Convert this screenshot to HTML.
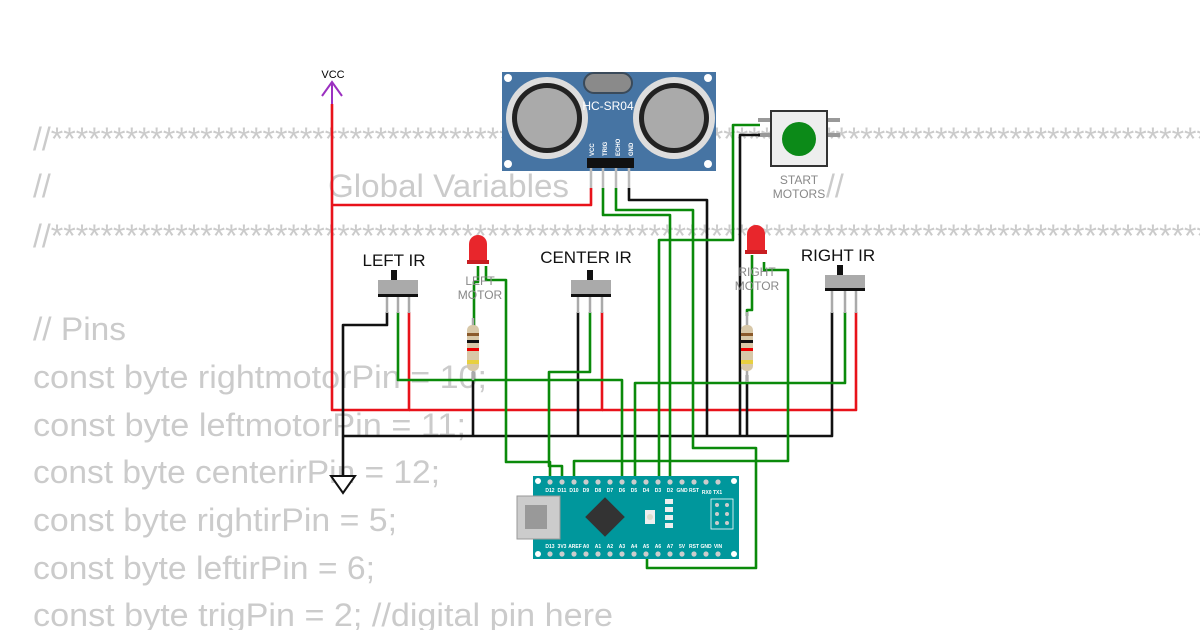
<!DOCTYPE html>
<html><head><meta charset="utf-8"><style>
html,body{margin:0;padding:0;background:#fff;width:1200px;height:630px;overflow:hidden}
svg{display:block}
.code{font-family:"Liberation Sans",sans-serif;font-size:32px;fill:#cbcbcb}
.w{fill:none;stroke-width:2.6;stroke-linejoin:round}
.g{stroke:#0a8a0a}.r{stroke:#e8121a}.k{stroke:#111}
.lbl{font-family:"Liberation Sans",sans-serif;font-size:17px;fill:#111}
.sm{font-family:"Liberation Sans",sans-serif;font-size:12px;fill:#888}
.pin{font-family:"Liberation Sans",sans-serif;font-size:6px;fill:#fff;font-weight:bold}
</style></head><body>
<svg width="1200" height="630" viewBox="0 0 1200 630" xmlns="http://www.w3.org/2000/svg">
<g class="code">
<text x="33" y="150">//*****************************************************************************************************</text>
<text x="33" y="197">//</text><text x="328" y="197" textLength="241" lengthAdjust="spacingAndGlyphs">Global Variables</text><text x="826" y="197">//</text>
<text x="33" y="247">//*****************************************************************************************************</text>
<text x="33" y="340" textLength="93" lengthAdjust="spacingAndGlyphs">// Pins</text>
<text x="33" y="388" textLength="454" lengthAdjust="spacingAndGlyphs">const byte rightmotorPin = 10;</text>
<text x="33" y="436" textLength="433" lengthAdjust="spacingAndGlyphs">const byte leftmotorPin = 11;</text>
<text x="33" y="483" textLength="407" lengthAdjust="spacingAndGlyphs">const byte centerirPin = 12;</text>
<text x="33" y="531" textLength="364" lengthAdjust="spacingAndGlyphs">const byte rightirPin = 5;</text>
<text x="33" y="579" textLength="342" lengthAdjust="spacingAndGlyphs">const byte leftirPin = 6;</text>
<text x="33" y="626" textLength="580" lengthAdjust="spacingAndGlyphs">const byte trigPin = 2; //digital pin here</text>
</g>

<!-- VCC -->
<text x="333" y="78" text-anchor="middle" font-family="Liberation Sans,sans-serif" font-size="11">VCC</text>
<path d="M322 96 L332 82 L342 96 M332 82 V104" fill="none" stroke="#9b30c0" stroke-width="2"/>

<!-- HC-SR04 -->
<rect x="502" y="72" width="214" height="99" fill="#4674a3"/>
<circle cx="508" cy="78" r="4" fill="#fff"/><circle cx="708" cy="78" r="4" fill="#fff"/>
<circle cx="508" cy="164" r="4" fill="#fff"/><circle cx="708" cy="164" r="4" fill="#fff"/>
<rect x="584" y="73" width="48" height="20" rx="10" fill="#8a8a8a" stroke="#3a4a5a" stroke-width="2"/>
<circle cx="547" cy="118" r="41" fill="#ddd"/><circle cx="547" cy="118" r="35" fill="#222"/><circle cx="547" cy="118" r="30" fill="#aaa"/>
<circle cx="674" cy="118" r="41" fill="#ddd"/><circle cx="674" cy="118" r="35" fill="#222"/><circle cx="674" cy="118" r="30" fill="#aaa"/>
<text x="608" y="110" text-anchor="middle" font-family="Liberation Sans,sans-serif" font-size="12" fill="#fff">HC-SR04</text>
<g class="pin"><text transform="translate(594,156) rotate(-90)">VCC</text><text transform="translate(607,156) rotate(-90)">TRIG</text><text transform="translate(620,156) rotate(-90)">ECHO</text><text transform="translate(633,156) rotate(-90)">GND</text></g>
<rect x="587" y="158" width="47" height="10" fill="#111"/>
<g stroke="#bbb" stroke-width="2.5"><line x1="591" y1="168" x2="591" y2="190"/><line x1="603" y1="168" x2="603" y2="190"/><line x1="616" y1="168" x2="616" y2="190"/><line x1="629" y1="168" x2="629" y2="190"/></g>

<!-- Start button -->
<g stroke="#999" stroke-width="4"><line x1="758" y1="120" x2="772" y2="120"/><line x1="758" y1="135" x2="772" y2="135"/><line x1="826" y1="120" x2="840" y2="120"/><line x1="826" y1="135" x2="840" y2="135"/></g>
<rect x="771" y="111" width="56" height="55" fill="#eee" stroke="#333" stroke-width="2"/>
<circle cx="799" cy="139" r="17" fill="#0c8a18"/>
<text x="799" y="184" text-anchor="middle" class="sm" font-size="14">START</text>
<text x="799" y="198" text-anchor="middle" class="sm" font-size="14">MOTORS</text>

<!-- wires -->
<path class="w r" d="M332 104 V410 H409 V312"/>
<path class="w r" d="M591 188 V205 H332"/>
<path class="w r" d="M409 410 H602 V312"/>
<path class="w r" d="M602 410 H856 V312"/>
<path class="w k" d="M387 312 V325 H343 V478"/>
<path class="w k" d="M343 436 H832 V312"/>
<path class="w k" d="M578 312 V436"/>
<path class="w k" d="M473 372 V436"/>
<path class="w k" d="M747 375 V436"/>
<path class="w k" d="M629 188 V200 H707 V436"/>
<path class="w k" d="M760 135 H740 V436"/>
<path class="w g" d="M398 312 V380 H622 V482"/>
<path class="w g" d="M845 312 V383 H635 V482"/>
<path class="w g" d="M590 312 V372 H549 V466 H562 V482"/>
<path class="w g" d="M486 266 V280 H506 V462 H550 V482"/>
<path class="w g" d="M760 125 H733 V240 H659 V482"/>
<path class="w g" d="M603 188 V215 H670 V482"/>
<path class="w g" d="M616 188 V210 H693 V448 H756 V568 H647 V556"/>
<path class="w g" d="M764 262 V270 H788 V461 H574 V482"/>
<path class="w g" d="M478 266 V282 H474 V326"/>
<path class="w g" d="M752 255 V310 H747 V316"/>

<!-- GND -->
<path d="M331 476 H355 L343 493 Z" fill="#fff" stroke="#111" stroke-width="2"/>

<!-- IR sensors -->
<g>
<text x="394" y="266" text-anchor="middle" class="lbl">LEFT IR</text>
<rect x="391" y="270" width="6" height="10" fill="#111"/><rect x="378" y="280" width="40" height="14" fill="#aaa"/><rect x="378" y="294" width="40" height="3" fill="#111"/>
<g stroke="#aaa" stroke-width="2.5"><line x1="387" y1="297" x2="387" y2="313"/><line x1="398" y1="297" x2="398" y2="313"/><line x1="409" y1="297" x2="409" y2="313"/></g>
</g>
<g>
<text x="586" y="263" text-anchor="middle" class="lbl">CENTER IR</text>
<rect x="587" y="270" width="6" height="10" fill="#111"/><rect x="571" y="280" width="40" height="14" fill="#aaa"/><rect x="571" y="294" width="40" height="3" fill="#111"/>
<g stroke="#aaa" stroke-width="2.5"><line x1="578" y1="297" x2="578" y2="313"/><line x1="590" y1="297" x2="590" y2="313"/><line x1="602" y1="297" x2="602" y2="313"/></g>
</g>
<g>
<text x="838" y="261" text-anchor="middle" class="lbl">RIGHT IR</text>
<rect x="837" y="265" width="6" height="10" fill="#111"/><rect x="825" y="275" width="40" height="13" fill="#aaa"/><rect x="825" y="288" width="40" height="3" fill="#111"/>
<g stroke="#aaa" stroke-width="2.5"><line x1="832" y1="291" x2="832" y2="313"/><line x1="845" y1="291" x2="845" y2="313"/><line x1="856" y1="291" x2="856" y2="313"/></g>
</g>

<!-- LEDs -->
<path d="M469 262 V244 a9 9 0 0 1 18 0 V262 Z" fill="#e8262c"/><rect x="467" y="260" width="22" height="4" fill="#c81e22"/>
<text x="480" y="285" text-anchor="middle" class="sm">LEFT</text><text x="480" y="299" text-anchor="middle" class="sm">MOTOR</text>
<path d="M747 252 V234 a9 9 0 0 1 18 0 V252 Z" fill="#e8262c"/><rect x="745" y="250" width="22" height="4" fill="#c81e22"/>
<text x="757" y="276" text-anchor="middle" class="sm">RIGHT</text><text x="757" y="290" text-anchor="middle" class="sm">MOTOR</text>

<!-- resistors -->
<g><line x1="473" y1="318" x2="473" y2="380" stroke="#aaa" stroke-width="2.5"/>
<rect x="467" y="325" width="12" height="46" rx="5" fill="#d8c8a8"/>
<rect x="467" y="333" width="12" height="3" fill="#8b5a2b"/><rect x="467" y="340" width="12" height="3" fill="#111"/><rect x="467" y="348" width="12" height="3" fill="#e00"/><rect x="467" y="360" width="12" height="4" fill="#e8d040"/></g>
<g><line x1="747" y1="312" x2="747" y2="382" stroke="#aaa" stroke-width="2.5"/>
<rect x="741" y="325" width="12" height="46" rx="5" fill="#d8c8a8"/>
<rect x="741" y="333" width="12" height="3" fill="#8b5a2b"/><rect x="741" y="340" width="12" height="3" fill="#111"/><rect x="741" y="348" width="12" height="3" fill="#e00"/><rect x="741" y="360" width="12" height="4" fill="#e8d040"/></g>

<!-- Arduino Nano -->
<rect x="533" y="476" width="206" height="83" fill="#00979c"/>
<circle cx="538" cy="481" r="3" fill="#fff"/><circle cx="734" cy="481" r="3" fill="#fff"/><circle cx="538" cy="554" r="3" fill="#fff"/><circle cx="734" cy="554" r="3" fill="#fff"/>
<g fill="#ccc">
<circle cx="550" cy="482" r="2.6"/><circle cx="562" cy="482" r="2.6"/><circle cx="574" cy="482" r="2.6"/><circle cx="586" cy="482" r="2.6"/><circle cx="598" cy="482" r="2.6"/><circle cx="610" cy="482" r="2.6"/><circle cx="622" cy="482" r="2.6"/><circle cx="634" cy="482" r="2.6"/><circle cx="646" cy="482" r="2.6"/><circle cx="658" cy="482" r="2.6"/><circle cx="670" cy="482" r="2.6"/><circle cx="682" cy="482" r="2.6"/><circle cx="694" cy="482" r="2.6"/><circle cx="706" cy="482" r="2.6"/><circle cx="718" cy="482" r="2.6"/>
<circle cx="550" cy="554" r="2.6"/><circle cx="562" cy="554" r="2.6"/><circle cx="574" cy="554" r="2.6"/><circle cx="586" cy="554" r="2.6"/><circle cx="598" cy="554" r="2.6"/><circle cx="610" cy="554" r="2.6"/><circle cx="622" cy="554" r="2.6"/><circle cx="634" cy="554" r="2.6"/><circle cx="646" cy="554" r="2.6"/><circle cx="658" cy="554" r="2.6"/><circle cx="670" cy="554" r="2.6"/><circle cx="682" cy="554" r="2.6"/><circle cx="694" cy="554" r="2.6"/><circle cx="706" cy="554" r="2.6"/><circle cx="718" cy="554" r="2.6"/>
</g>
<g font-family="Liberation Sans,sans-serif" font-size="5" fill="#fff" font-weight="bold" text-anchor="middle">
<text x="550" y="492">D12</text><text x="562" y="492">D11</text><text x="574" y="492">D10</text><text x="586" y="492">D9</text><text x="598" y="492">D8</text><text x="610" y="492">D7</text><text x="622" y="492">D6</text><text x="634" y="492">D5</text><text x="646" y="492">D4</text><text x="658" y="492">D3</text><text x="670" y="492">D2</text><text x="682" y="492">GND</text><text x="694" y="492">RST</text><text x="712" y="494">RX0 TX1</text>
<text x="550" y="548">D13</text><text x="562" y="548">3V3</text><text x="575" y="548">AREF</text><text x="586" y="548">A0</text><text x="598" y="548">A1</text><text x="610" y="548">A2</text><text x="622" y="548">A3</text><text x="634" y="548">A4</text><text x="646" y="548">A5</text><text x="658" y="548">A6</text><text x="670" y="548">A7</text><text x="682" y="548">5V</text><text x="694" y="548">RST</text><text x="706" y="548">GND</text><text x="718" y="548">VIN</text>
</g>
<rect x="517" y="496" width="43" height="43" fill="#ccc" stroke="#999"/>
<rect x="525" y="505" width="22" height="24" fill="#999"/>
<rect x="591" y="503" width="28" height="28" fill="#333" transform="rotate(45 605 517)"/>
<rect x="645" y="510" width="10" height="14" fill="#eee"/><circle cx="650" cy="517" r="3" fill="#ddc"/>
<g fill="#eee"><rect x="665" y="499" width="8" height="5"/><rect x="665" y="507" width="8" height="5"/><rect x="665" y="515" width="8" height="5"/><rect x="665" y="523" width="8" height="5"/></g>
<rect x="711" y="499" width="22" height="30" fill="none" stroke="#fff" stroke-width="0.8"/>
<g fill="#ccc"><circle cx="717" cy="505" r="2"/><circle cx="727" cy="505" r="2"/><circle cx="717" cy="514" r="2"/><circle cx="727" cy="514" r="2"/><circle cx="717" cy="523" r="2"/><circle cx="727" cy="523" r="2"/></g>
</svg>
</body></html>
